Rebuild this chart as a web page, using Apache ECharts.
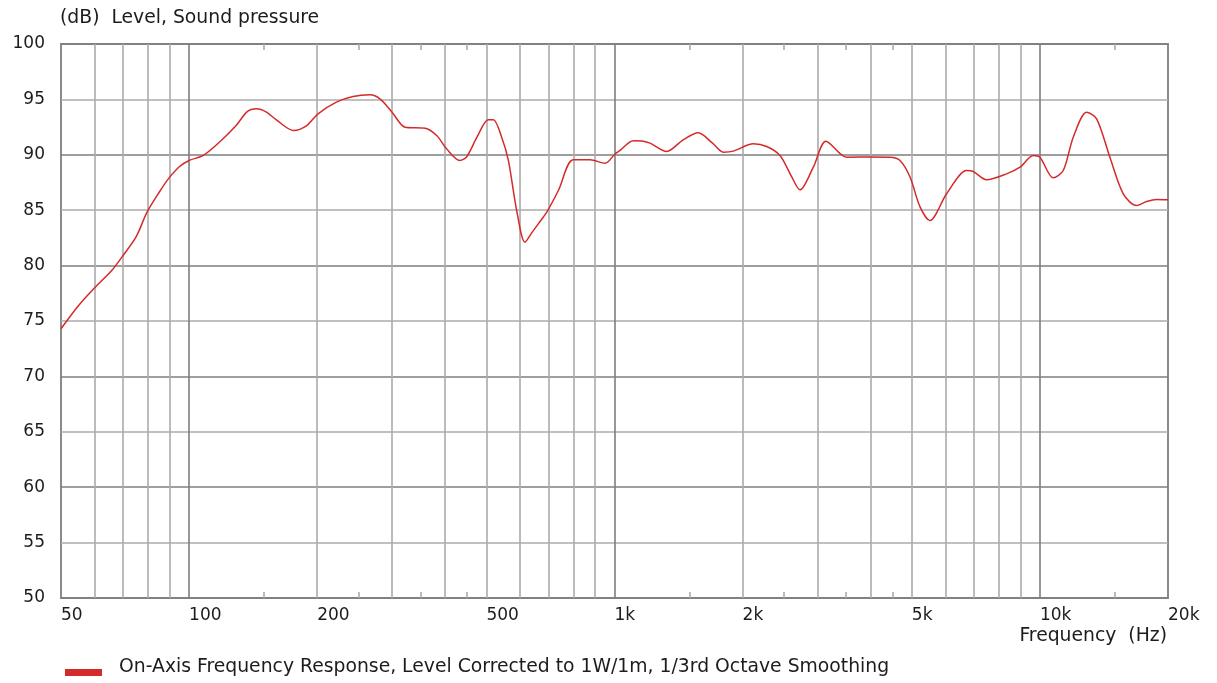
<!DOCTYPE html>
<html>
<head>
<meta charset="utf-8">
<script src="https://cdn.jsdelivr.net/npm/echarts@6/dist/echarts.min.js"></script>
<style>
html,body{margin:0;padding:0;background:#fff;}
#chart{width:1217px;height:683px;}
</style>
</head>
<body>
<div id="chart"></div>
<script>
// ---- data ----
const freqHz = [50, 55, 60, 65.8, 69.5, 75, 79.6, 85, 89.4, 95, 100, 108, 119, 129, 137, 144, 152, 161, 176, 189,
  201, 222, 243, 266, 281, 300, 322, 359, 382, 403, 433, 449, 475, 505, 519, 543, 563, 589, 616, 640,
  662, 693, 738, 800, 876, 950, 1004, 1030, 1107, 1169, 1212, 1326, 1450, 1573, 1700, 1802, 1902, 2120, 2279, 2449,
  2600, 2729, 2933, 3141, 3513, 4000, 4441, 4688, 4950, 5226, 5514, 6035, 6724, 6950, 7493, 8349, 8977, 9646, 10000, 10748,
  11345, 11977, 12876, 13592, 14604, 15699, 16871, 17811, 18793, 20000];
const levelDb = [74.3, 76.4, 78.0, 79.56, 80.76, 82.56, 84.8, 86.6, 87.83, 88.94, 89.49, 89.94, 91.29, 92.64, 93.9, 94.15, 93.85, 93.1, 92.19, 92.64,
  93.7, 94.75, 95.26, 95.41, 95.05, 93.85, 92.49, 92.4, 91.74, 90.54, 89.49, 89.8, 91.59, 93.16, 93.16, 91.59, 89.49, 84.97, 82.11, 83.0,
  83.77, 84.82, 86.78, 89.55, 89.55, 89.24, 90.09, 90.39, 91.26, 91.23, 91.05, 90.3, 91.35, 91.98, 91.05, 90.24, 90.33, 90.99, 90.75, 89.94,
  88.13, 86.84, 88.88, 91.23, 89.78, 89.8, 89.78, 89.49, 88.0, 85.3, 84.07, 86.48, 88.58, 88.52, 87.74, 88.28, 88.88, 89.94, 89.78, 87.92,
  88.58, 91.59, 93.85, 93.25, 89.78, 86.48, 85.42, 85.78, 85.97, 85.94];
const seriesName = 'On-Axis Frequency Response, Level Corrected to 1W/1m, 1/3rd Octave Smoothing';
const xLabelFreqs = [50, 100, 200, 500, 1000, 2000, 5000, 10000, 20000];
const gridFreqs = [60, 70, 80, 90, 100, 200, 300, 400, 500, 600, 700, 800, 900, 1000,
  2000, 3000, 4000, 5000, 6000, 7000, 8000, 9000, 10000];
const minorTickFreqs = [150, 250, 350, 450, 1500, 2500, 3500, 4500, 15000];
const titleText = '(dB)  Level, Sound pressure';
const xAxisTitle = 'Frequency  (Hz)';

// ---- styles ----
const FONT = 'DejaVu Sans';
const TXT = '#1c1c1c';
const GRID_LIGHT = '#ababab';
const GRID_DARK = '#7e7e7e';
const FRAME = '#8a8a8a';
const NUM_SIZE = 17;
const WORD_SIZE = 18.8;

const chart = echarts.init(document.getElementById('chart'), null, {renderer: 'canvas'});
const data = freqHz.map((f, i) => [f, levelDb[i]]);
const isDecade = f => Math.abs(Math.log10(f) - Math.round(Math.log10(f))) < 1e-9;
const gridColors = gridFreqs.map(f => isDecade(f) ? GRID_DARK : GRID_LIGHT);
const fmtFreq = v => v >= 1000 ? (v / 1000) + 'k' : String(v);

const logAxisBase = {
  type: 'log', logBase: 10, min: 50, max: 20000,
  axisLine: {show: false}
};

chart.setOption({
  animation: false,
  backgroundColor: '#ffffff',
  textStyle: {fontFamily: FONT},
  title: [
    {text: titleText, left: 60, top: 9, padding: 0,
     textStyle: {fontFamily: FONT, fontSize: WORD_SIZE, fontWeight: 'normal', color: TXT}},
    {text: xAxisTitle, right: 50, top: 627, padding: 0,
     textStyle: {fontFamily: FONT, fontSize: WORD_SIZE, fontWeight: 'normal', color: TXT}}
  ],
  legend: {
    left: 65, top: 658, padding: 0,
    itemWidth: 37, itemHeight: 17,
    // rect sits in the lower part of the icon box, slightly below the text centre
    icon: 'path://M0,0L0.01,0M0,10L37,10L37,17L0,17Z',
    textStyle: {fontFamily: FONT, fontSize: WORD_SIZE, color: TXT, padding: [0, 0, 0, 12]},
    data: [seriesName]
  },
  grid: {
    left: 61, right: 49, top: 44, bottom: 85,
    show: true, borderColor: FRAME, borderWidth: 2, backgroundColor: 'transparent'
  },
  xAxis: [
    Object.assign({}, logAxisBase, {
      position: 'bottom',
      axisTick: {show: false, customValues: gridFreqs},
      splitLine: {show: true, lineStyle: {color: gridColors, width: 1.6}},
      axisLabel: {customValues: xLabelFreqs, formatter: fmtFreq, align: 'left', margin: 9,
        fontFamily: FONT, fontSize: NUM_SIZE, color: TXT, showMinLabel: true, showMaxLabel: true}
    }),
    Object.assign({}, logAxisBase, {
      position: 'bottom',
      axisTick: {show: true, inside: true, length: 6, customValues: minorTickFreqs,
        lineStyle: {color: GRID_LIGHT, width: 1.6}},
      splitLine: {show: false},
      axisLabel: {show: false}
    }),
    Object.assign({}, logAxisBase, {
      position: 'top',
      axisTick: {show: true, inside: true, length: 6, customValues: minorTickFreqs,
        lineStyle: {color: GRID_LIGHT, width: 1.6}},
      splitLine: {show: false},
      axisLabel: {show: false}
    })
  ],
  yAxis: {
    type: 'value', min: 50, max: 100, interval: 5,
    axisLine: {show: false},
    axisTick: {show: false},
    splitLine: {show: true, lineStyle: {color: [GRID_DARK, GRID_LIGHT], width: 1.6}},
    axisLabel: {margin: 16, fontFamily: FONT, fontSize: NUM_SIZE, color: TXT}
  },
  series: [{
    name: seriesName,
    type: 'line',
    xAxisIndex: 0,
    data: data,
    smooth: 0.3,
    showSymbol: false,
    color: '#d42a2a',
    lineStyle: {width: 1.5, color: '#d42a2a'},
    z: 5
  }]
});
</script>
</body>
</html>
